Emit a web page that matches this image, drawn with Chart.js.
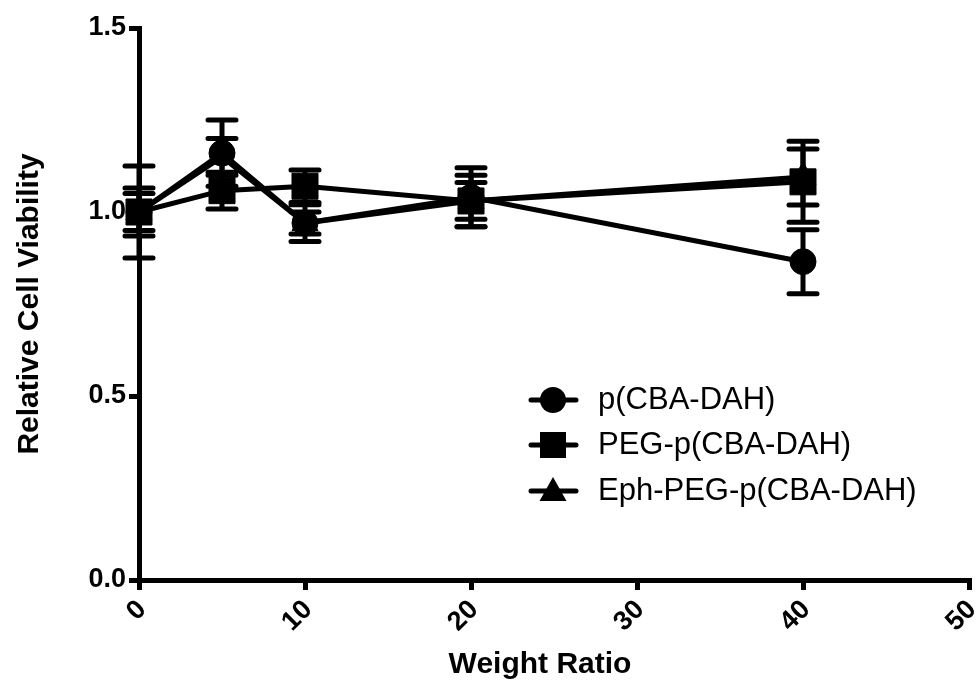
<!DOCTYPE html>
<html><head><meta charset="utf-8">
<script src="https://cdn.jsdelivr.net/npm/chart.js@4/dist/chart.umd.min.js"></script>
<style>html,body{margin:0;padding:0;background:#fff;}#wrap{width:977px;height:692px;position:relative;}</style>
</head><body><div id="wrap"><canvas id="c" width="977" height="692"></canvas></div>
<script>
const weightRatio = [0, 5, 10, 20, 40];
const seriesNames = ['p(CBA-DAH)', 'PEG-p(CBA-DAH)', 'Eph-PEG-p(CBA-DAH)'];
const pCBA = [1.00, 1.16, 0.97, 1.04, 0.865];
const pCBAErr = [0.125, 0.09, 0.05, 0.08, 0.087];
const pegCBA = [1.00, 1.058, 1.07, 1.03, 1.082];
const pegCBAErr = [0.065, 0.05, 0.044, 0.07, 0.11];
const ephCBA = [1.00, 1.15, 0.97, 1.03, 1.095];
const ephCBAErr = [0.05, 0.05, 0.03, 0.05, 0.076];
const xTicks = [0, 10, 20, 30, 40, 50];
const yTicks = [0.0, 0.5, 1.0, 1.5];
const xTitle = 'Weight Ratio';
const yTitle = 'Relative Cell Viability';

const FAM = '"Liberation Sans", Arial, sans-serif';
const errSets = [pCBAErr, pegCBAErr, ephCBAErr];
const styles = [
  {pointStyle: 'circle', pointRadius: 13},
  {pointStyle: 'rect', pointRadius: 18.4},
  {pointStyle: 'triangle', pointRadius: 15}
];
const values = [pCBA, pegCBA, ephCBA];

const datasets = values.map((vals, i) => ({
  label: seriesNames[i],
  data: weightRatio.map((x, j) => ({x: x, y: vals[j]})),
  borderColor: '#000',
  backgroundColor: '#000',
  pointBackgroundColor: '#000',
  pointBorderColor: '#000',
  pointBorderWidth: 1,
  borderWidth: 5,
  tension: 0,
  clip: false,
  pointStyle: styles[i].pointStyle,
  pointRadius: styles[i].pointRadius,
  pointHoverRadius: styles[i].pointRadius
}));

const errorBars = {
  id: 'errorBars',
  beforeDatasetsDraw(chart) {
    const ctx = chart.ctx, xs = chart.scales.x, ys = chart.scales.y;
    ctx.save();
    ctx.strokeStyle = '#000';
    ctx.lineWidth = 5;
    ctx.lineCap = 'round';
    chart.data.datasets.forEach((ds, i) => {
      const errs = errSets[i];
      ds.data.forEach((p, j) => {
        const x = xs.getPixelForValue(p.x);
        const hi = ys.getPixelForValue(p.y + errs[j]);
        const lo = ys.getPixelForValue(p.y - errs[j]);
        ctx.beginPath();
        ctx.moveTo(x, hi); ctx.lineTo(x, lo);
        ctx.moveTo(x - 14, hi); ctx.lineTo(x + 14, hi);
        ctx.moveTo(x - 14, lo); ctx.lineTo(x + 14, lo);
        ctx.stroke();
      });
    });
    ctx.restore();
  }
};

const legendBox = {
  id: 'legendBox',
  afterDraw(chart) {
    const ctx = chart.ctx;
    const rows = [400, 445, 491];
    const mx = 553;
    ctx.save();
    ctx.fillStyle = '#000';
    ctx.strokeStyle = '#000';
    seriesNames.forEach((name, i) => {
      const y = rows[i];
      ctx.lineWidth = 5;
      ctx.lineCap = 'round';
      ctx.beginPath(); ctx.moveTo(mx - 22, y); ctx.lineTo(mx + 23, y); ctx.stroke();
      ctx.beginPath();
      if (i === 0) { ctx.arc(mx, y, 13, 0, Math.PI * 2); }
      else if (i === 1) { ctx.rect(mx - 13, y - 13, 26, 26); }
      else { ctx.moveTo(mx, y - 14); ctx.lineTo(mx + 13.5, y + 10); ctx.lineTo(mx - 13.5, y + 10); ctx.closePath(); }
      ctx.fill();
      ctx.font = '31px ' + FAM;
      ctx.textBaseline = 'middle';
      ctx.textAlign = 'left';
      ctx.fillText(name, 598, y);
    });
    // x-axis title
    ctx.font = 'bold 30px ' + FAM;
    ctx.textAlign = 'center';
    ctx.textBaseline = 'middle';
    ctx.fillText(xTitle, 540, 665);
    ctx.restore();
  }
};

new Chart(document.getElementById('c'), {
  type: 'line',
  data: {datasets: datasets},
  options: {
    responsive: false,
    animation: false,
    devicePixelRatio: 1,
    layout: {autoPadding: false, padding: {top: 28, right: 8, left: 0, bottom: 0}},
    plugins: {legend: {display: false}, tooltip: {enabled: false}},
    scales: {
      x: {
        type: 'linear', min: 0, max: 50,
        afterBuildTicks: s => { s.ticks = xTicks.map(v => ({value: v})); },
        ticks: {minRotation: 45, maxRotation: 45, color: '#000', padding: 4, labelOffset: 3,
          font: {family: FAM, size: 27, weight: 'bold'}},
        grid: {drawOnChartArea: false, drawTicks: true, tickLength: 10, lineWidth: 5, color: '#000'},
        border: {display: true, width: 5, color: '#000'},
        title: {display: false},
        afterFit: s => { s.height = 112; s.paddingLeft = 0; s.paddingRight = 0; }
      },
      y: {
        type: 'linear', min: 0, max: 1.5,
        afterBuildTicks: s => { s.ticks = yTicks.map(v => ({value: v})); },
        ticks: {color: '#000', padding: 3, callback: v => Number(v).toFixed(1),
          font: {family: FAM, size: 27, weight: 'bold'}},
        grid: {drawOnChartArea: false, drawTicks: true, tickLength: 10, lineWidth: 5, color: '#000'},
        border: {display: true, width: 5, color: '#000'},
        title: {display: true, text: yTitle, color: '#000', padding: {top: 12, bottom: 0},
          font: {family: FAM, size: 30, weight: 'bold'}},
        afterFit: s => { s.width = 139; }
      }
    }
  },
  plugins: [errorBars, legendBox]
});
</script>
</body></html>
